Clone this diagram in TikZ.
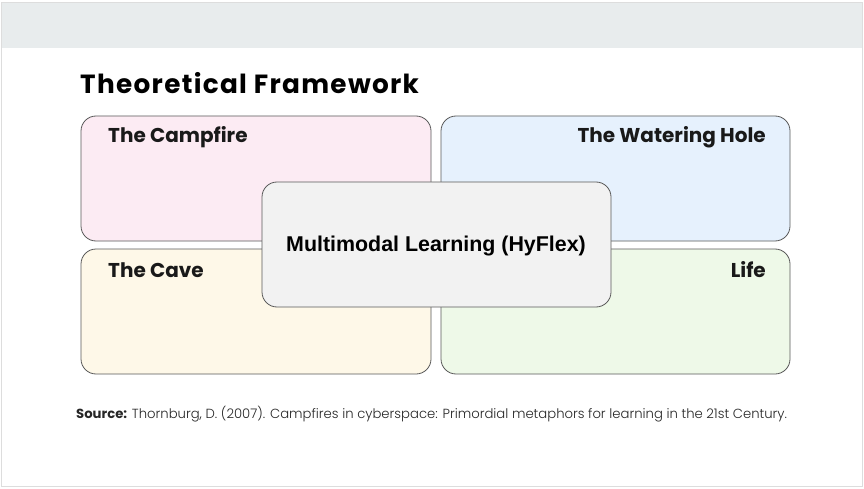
\documentclass[tikz,border=0pt]{standalone}
\usepackage{fontspec}
\setmainfont{Poppins}
\newfontfamily\arialf{Liberation Sans}
\newfontfamily\srcf{Poppins Light}
\newfontfamily\titlef[LetterSpace=5]{Poppins}
\definecolor{hdr}{HTML}{E8ECED}
\definecolor{frm}{HTML}{DDDDDD}
\definecolor{cpink}{HTML}{FCEBF3}
\definecolor{cblue}{HTML}{E6F1FD}
\definecolor{cyel}{HTML}{FEF8E8}
\definecolor{cgrn}{HTML}{EEF9E8}
\definecolor{ccen}{HTML}{F2F2F2}
\definecolor{edge}{HTML}{595959}
\begin{document}
\begin{tikzpicture}[x=1pt,y=-1pt,
  quad/.style={draw=edge,line width=0.8pt,rounded corners=15pt},
  lbl/.style={font=\bfseries\fontsize{20}{22}\selectfont,inner sep=0pt,text=black!90}]
\useasboundingbox (0,0) rectangle (864,489);
\fill[white] (0,0) rectangle (864,489);
\fill[hdr] (2,3) rectangle (862,48);
\draw[frm,line width=1pt] (1.5,2.5) rectangle (862,486.5);
\node[anchor=base west,inner sep=0pt,font=\titlef\bfseries\fontsize{26.3}{30}\selectfont] (title) at (80,94) {Theoretical Framework};
\draw[quad,fill=cpink] (81,116) rectangle (431,241);
\draw[quad,fill=cblue] (441,116) rectangle (790,241);
\draw[quad,fill=cyel] (81,249) rectangle (431,374);
\draw[quad,fill=cgrn] (441,249) rectangle (790,374);
\node[lbl,anchor=base west] (campfire) at (108,143) {The Campfire};
\node[lbl,anchor=base east] (water) at (766,143) {The Watering Hole};
\node[lbl,anchor=base west] (cave) at (108,277) {The Cave};
\node[lbl,anchor=base east] (life) at (766,277) {Life};
\draw[quad,fill=ccen] (262,182) rectangle (611,307);
\node[font=\arialf\bfseries\fontsize{21.4}{24}\selectfont,anchor=base,inner sep=0pt] (center) at (436,251.5) {Multimodal Learning (HyFlex)};
\node[anchor=base west,inner sep=0pt,font=\srcf\fontsize{13.2}{16}\selectfont,text=black!85] (src) at (76,418) {{\fontspec{Poppins}\bfseries Source:} Thornburg, D. (2007). Campfires in cyberspace: Primordial metaphors for learning in the 21st Century.};
\end{tikzpicture}
\end{document}
